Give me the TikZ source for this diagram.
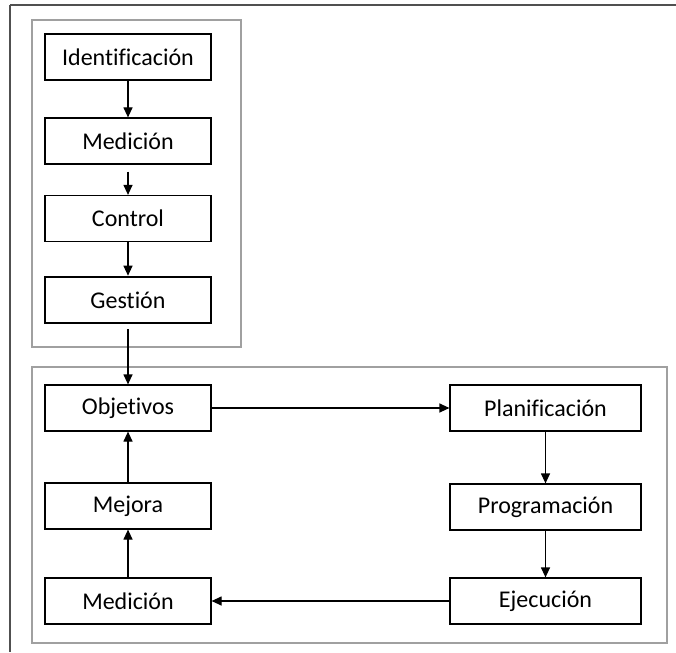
\documentclass[tikz,border=0pt]{standalone}
\usepackage{fontspec}
\setmainfont{Carlito}[Ligatures=NoCommon]
\usetikzlibrary{arrows.meta}
\definecolor{framegray}{HTML}{505050}
\definecolor{boxgray}{HTML}{A0A0A0}
\tikzset{
  stepbox/.style={draw=black, line width=1.2pt, fill=white, minimum height=46pt, inner sep=0pt, font=\fontsize{24}{28}\selectfont},
  leftbox/.style={stepbox, minimum width=166pt},
  rightbox/.style={stepbox, minimum width=191pt},
  arr/.style={draw=black, line width=1.2pt, -{Triangle[length=10pt,width=9pt]}},
  group/.style={draw=boxgray, line width=1.3pt}
}
\begin{document}
\begin{tikzpicture}[x=1pt,y=-1pt]
\useasboundingbox (0,0) rectangle (676,652);
% outer frame
\draw[framegray, line width=2pt] (10,5) -- (676,5);
\draw[framegray, line width=1.5pt] (10,5) -- (10,652);
% group frames
\draw[group] (32,20) rectangle (241,347);
\draw[group] (32,367) rectangle (667,643);
% top column
\node[leftbox] (ident) at (128,57) {Identificación};
\node[leftbox] (med1) at (128,141) {Medición};
\node[leftbox] (ctrl) at (128,218.5) {Control};
\node[leftbox, line width=2.6pt] (gest) at (128,300) {Gestión};
% bottom cycle
\node[leftbox] (obj) at (128,408) {Objetivos};
\node[leftbox] (mej) at (128,506) {Mejora};
\node[leftbox] (med2) at (128,601) {Medición};
\node[rightbox] (plan) at (545.5,408) {Planificación};
\node[rightbox] (prog) at (545.5,507) {Programación};
\node[rightbox] (ejec) at (545.5,601) {Ejecución};
% connectors
\draw[arr] (ident) -- (med1);
\draw[arr, shorten <=7pt] (med1) -- (ctrl);
\draw[arr] (ctrl) -- (gest);
\draw[arr, shorten <=5pt] (gest) -- (obj);
\draw[arr] (obj) -- (plan);
\draw[arr] (plan) -- (prog);
\draw[arr] (prog) -- (ejec);
\draw[arr] (ejec) -- (med2);
\draw[arr] (med2) -- (mej);
\draw[arr] (mej) -- (obj);
\end{tikzpicture}
\end{document}
